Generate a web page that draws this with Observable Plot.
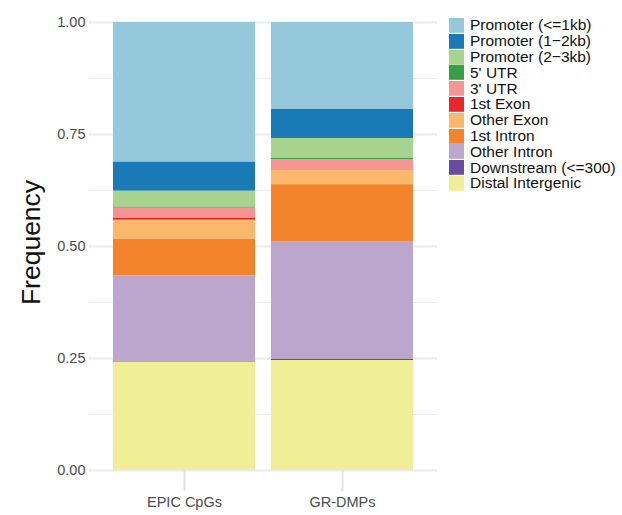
<!DOCTYPE html>
<html>
<head>
<meta charset="utf-8">
<script src="https://cdn.jsdelivr.net/npm/d3@7"></script>
<script src="https://cdn.jsdelivr.net/npm/@observablehq/plot@0.6"></script>
<style>
  html, body { margin: 0; padding: 0; background: #fff; }
  #chart { position: relative; width: 622px; height: 515px; font-family: "Liberation Sans", Arial, sans-serif; }
  #chart > svg { position: absolute; left: 0; top: 0; }
  #legend { position: absolute; left: 449px; top: 18px; width: 173px; }
  .lg-swatches { margin: 0; font-family: "Liberation Sans", Arial, sans-serif; font-size: 15.5px; color: #111; }
  .lg-swatch { padding-bottom: 1px; margin: 0; }
  .lg-swatch > svg { margin-right: 6px; }
  .lg-swatch-label { line-height: 14px; overflow: visible; }
</style>
</head>
<body>
<div id="chart"><div id="legend"></div></div>
<script>
// Genomic feature categories, in legend order (top of the stack first)
const features = [
  "Promoter (<=1kb)", "Promoter (1−2kb)", "Promoter (2−3kb)", "5' UTR", "3' UTR",
  "1st Exon", "Other Exon", "1st Intron", "Other Intron", "Downstream (<=300)", "Distal Intergenic"
];
const featureColors = [
  "#96C8DC", "#1A7AB5", "#A8D38E", "#34A047", "#F49594",
  "#E8262B", "#FAB86D", "#F4842C", "#BCA6CD", "#6A4A9C", "#F0EE96"
];

// Probe sets being annotated
const samples = ["EPIC CpGs", "GR-DMPs"];

// Fraction of probes falling in each feature, same order as `features`
const epicFreq  = [0.3120, 0.0647, 0.0358, 0.0020, 0.0225, 0.0045, 0.0425, 0.0820, 0.1925, 0.0005, 0.2410];
const grdmpFreq = [0.1942, 0.0648, 0.0446, 0.0024, 0.0244, 0.0000, 0.0316, 0.1270, 0.2632, 0.0023, 0.2455];

// Axis ticks and the finer gridlines between them
const yTicks = [0, 0.25, 0.5, 0.75, 1];
const yMinor = [0.125, 0.375, 0.625, 0.875];

const freqs = [epicFreq, grdmpFreq];
const rows = samples.flatMap((s, i) =>
  features.map((f, j) => ({sample: s, feature: f, freq: freqs[i][j]}))
);

const font = "'Liberation Sans', Arial, sans-serif";

const chart = Plot.plot({
  width: 437,
  height: 515,
  marginLeft: 89,
  marginRight: 0,
  marginTop: 22,
  marginBottom: 45,
  style: {fontFamily: font, background: "transparent"},
  x: {domain: samples, paddingInner: 0.1, paddingOuter: 0.15, label: null},
  y: {domain: [0, 1], label: null},
  color: {domain: features, range: featureColors},
  marks: [
    Plot.ruleY(yMinor, {stroke: "#EBEBEB", strokeWidth: 1}),
    Plot.ruleY(yTicks, {stroke: "#EBEBEB", strokeWidth: 2}),
    Plot.barY(rows, Plot.stackY({
      x: "sample", y: "freq", fill: "feature", z: "feature",
      order: features.slice().reverse()
    })),
    Plot.axisX({tickSize: 21, tickPadding: 5, stroke: "#E3E3E3", strokeWidth: 2,
                fill: "#4D4D4D", fontSize: 14.5, label: null}),
    Plot.axisY({ticks: yTicks, tickFormat: ".2f", tickSize: 0, tickPadding: 4,
                fill: "#4D4D4D", fontSize: 14.5, label: null}),
    Plot.text(["Frequency"], {frameAnchor: "left", textAnchor: "middle", rotate: -90,
                              dx: -58, dy: -4, fontSize: 26.5, fill: "#111"})
  ]
});

document.getElementById("chart").prepend(chart);

const legend = chart.legend("color", {
  legend: "swatches",
  columns: 1,
  swatchWidth: 15,
  swatchHeight: 14.8,
  className: "lg"
});
document.getElementById("legend").append(legend);
</script>
</body>
</html>
